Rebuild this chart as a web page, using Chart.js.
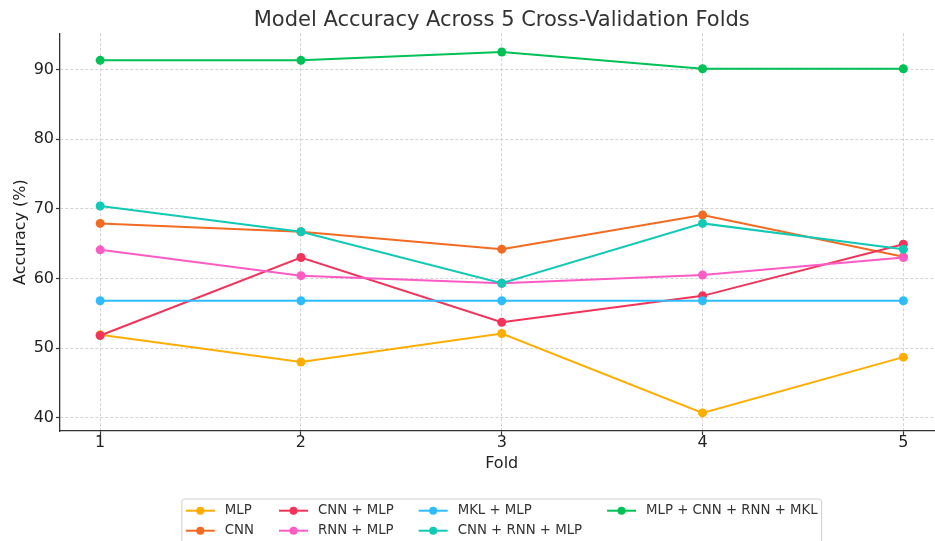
<!DOCTYPE html>
<html>
<head>
<meta charset="utf-8">
<script src="https://cdn.jsdelivr.net/npm/chart.js@4.4.1/dist/chart.umd.min.js"></script>
<style>
  html, body { margin: 0; padding: 0; background: #fff; overflow: hidden; }
  #wrap { width: 948px; height: 541px; }
</style>
</head>
<body>
<div id="wrap"><canvas id="foldChart" width="948" height="541"></canvas></div>
<script>
// Accuracy (%) per fold
const folds = [1, 2, 3, 4, 5];
const modelNames = ['MLP', 'CNN', 'CNN + MLP', 'RNN + MLP', 'MKL + MLP', 'CNN + RNN + MLP', 'MLP + CNN + RNN + MKL'];
const mlp        = [51.9, 48.0, 52.1, 40.7, 48.7];
const cnn        = [67.9, 66.7, 64.2, 69.1, 63.1];
const cnnMlp     = [51.8, 63.0, 53.7, 57.5, 64.9];
const rnnMlp     = [64.1, 60.4, 59.3, 60.5, 63.0];
const mklMlp     = [56.8, 56.8, 56.8, 56.8, 56.8];
const cnnRnnMlp  = [70.4, 66.7, 59.3, 67.9, 64.2];
const allModels  = [91.3, 91.3, 92.5, 90.1, 90.1];
const yTicks = [40, 50, 60, 70, 80, 90];

const seriesValues = [mlp, cnn, cnnMlp, rnnMlp, mklMlp, cnnRnnMlp, allModels];
const colors = ['#ffad00', '#f36b22', '#f2335a', '#ff5bc5', '#2ebcff', '#12c9b5', '#00c155'];

const FONT = '"DejaVu Sans", "Noto Sans", sans-serif';

// matplotlib style legend: 4 columns, filled column by column
const columnLegend = {
  id: 'columnLegend',
  afterDraw(chart) {
    const { ctx, chartArea } = chart;
    const sets = chart.data.datasets;
    const rows = 2;
    const cols = Math.ceil(sets.length / rows);
    const handle = 29, gap = 10, spacing = 25, pad = 4, rowH = 20;
    ctx.save();
    ctx.font = '13.3px ' + FONT;
    const colW = [];
    for (let c = 0; c < cols; c++) {
      let w = 0;
      for (let r = 0; r < rows; r++) {
        const ds = sets[c * rows + r];
        if (ds) w = Math.max(w, ctx.measureText(ds.label).width);
      }
      colW.push(handle + gap + w);
    }
    const total = colW.reduce((a, b) => a + b, 0) + spacing * (cols - 1) + pad * 2;
    const cx = (chartArea.left + chartArea.right) / 2;
    const left = cx - total / 2;
    const top = chartArea.bottom + 68;

    ctx.beginPath();
    ctx.roundRect(left, top, total, rows * rowH + 14, 3);
    ctx.fillStyle = 'rgba(255,255,255,0.8)';
    ctx.fill();
    ctx.strokeStyle = '#cfcfcf';
    ctx.lineWidth = 1;
    ctx.stroke();

    let x = left + pad;
    for (let c = 0; c < cols; c++) {
      for (let r = 0; r < rows; r++) {
        const ds = sets[c * rows + r];
        if (!ds) continue;
        const y = top + 11.7 + r * rowH;
        ctx.strokeStyle = ds.borderColor;
        ctx.lineWidth = 2;
        ctx.beginPath();
        ctx.moveTo(x, y);
        ctx.lineTo(x + handle, y);
        ctx.stroke();
        ctx.fillStyle = ds.borderColor;
        ctx.beginPath();
        ctx.arc(x + handle / 2, y, 4, 0, Math.PI * 2);
        ctx.fill();
        ctx.fillStyle = '#333';
        ctx.textBaseline = 'middle';
        ctx.textAlign = 'left';
        ctx.fillText(ds.label, x + handle + gap, y);
      }
      x += colW[c] + spacing;
    }
    ctx.restore();
  }
};

const datasets = modelNames.map((name, i) => ({
  label: name,
  data: folds.map((f, j) => ({ x: f, y: seriesValues[i][j] })),
  borderColor: colors[i],
  backgroundColor: colors[i],
  pointBackgroundColor: colors[i],
  borderWidth: 2,
  pointRadius: 4.5,
  pointBorderWidth: 0,
  tension: 0,
  order: modelNames.length - i
}));

const gridStyle = {
  color: '#c8c8c8',
  lineWidth: 0.8,
  tickColor: '#333',
  tickLength: 4,
  tickWidth: 1.2,
  tickBorderDash: []
};

new Chart(document.getElementById('foldChart'), {
  type: 'line',
  data: { datasets: datasets },
  options: {
    responsive: false,
    animation: false,
    events: [],
    layout: { padding: { top: 0, left: 0, right: 3, bottom: 66 } },
    plugins: {
      legend: { display: false },
      tooltip: { enabled: false },
      title: {
        display: true,
        text: 'Model Accuracy Across 5 Cross-Validation Folds',
        fullSize: false,
        color: '#333',
        font: { family: FONT, size: 21, weight: 'normal' },
        padding: { top: 8, bottom: 0 }
      }
    },
    scales: {
      x: {
        type: 'linear',
        min: 0.8,
        max: 5.2,
        afterBuildTicks: (scale) => { scale.ticks = folds.map(v => ({ value: v })); },
        afterFit: (scale) => { scale.height = 44; },
        grid: gridStyle,
        border: { display: true, color: '#333', width: 1.3, dash: [3, 2] },
        ticks: { color: '#222', padding: -2, font: { family: FONT, size: 16 } },
        title: {
          display: true, text: 'Fold', color: '#222',
          font: { family: FONT, size: 16 }, padding: { top: 0, bottom: 2 }
        }
      },
      y: {
        min: 38.1,
        max: 95.2,
        afterBuildTicks: (scale) => { scale.ticks = yTicks.map(v => ({ value: v })); },
        afterFit: (scale) => { scale.width = 60; },
        grid: gridStyle,
        border: { display: true, color: '#333', width: 1.3, dash: [3, 2] },
        ticks: { color: '#222', padding: 2, font: { family: FONT, size: 16 } },
        title: {
          display: true, text: 'Accuracy (%)', color: '#222',
          font: { family: FONT, size: 16 }, padding: { top: 11, bottom: 0 }
        }
      }
    }
  },
  plugins: [columnLegend]
});
</script>
</body>
</html>
